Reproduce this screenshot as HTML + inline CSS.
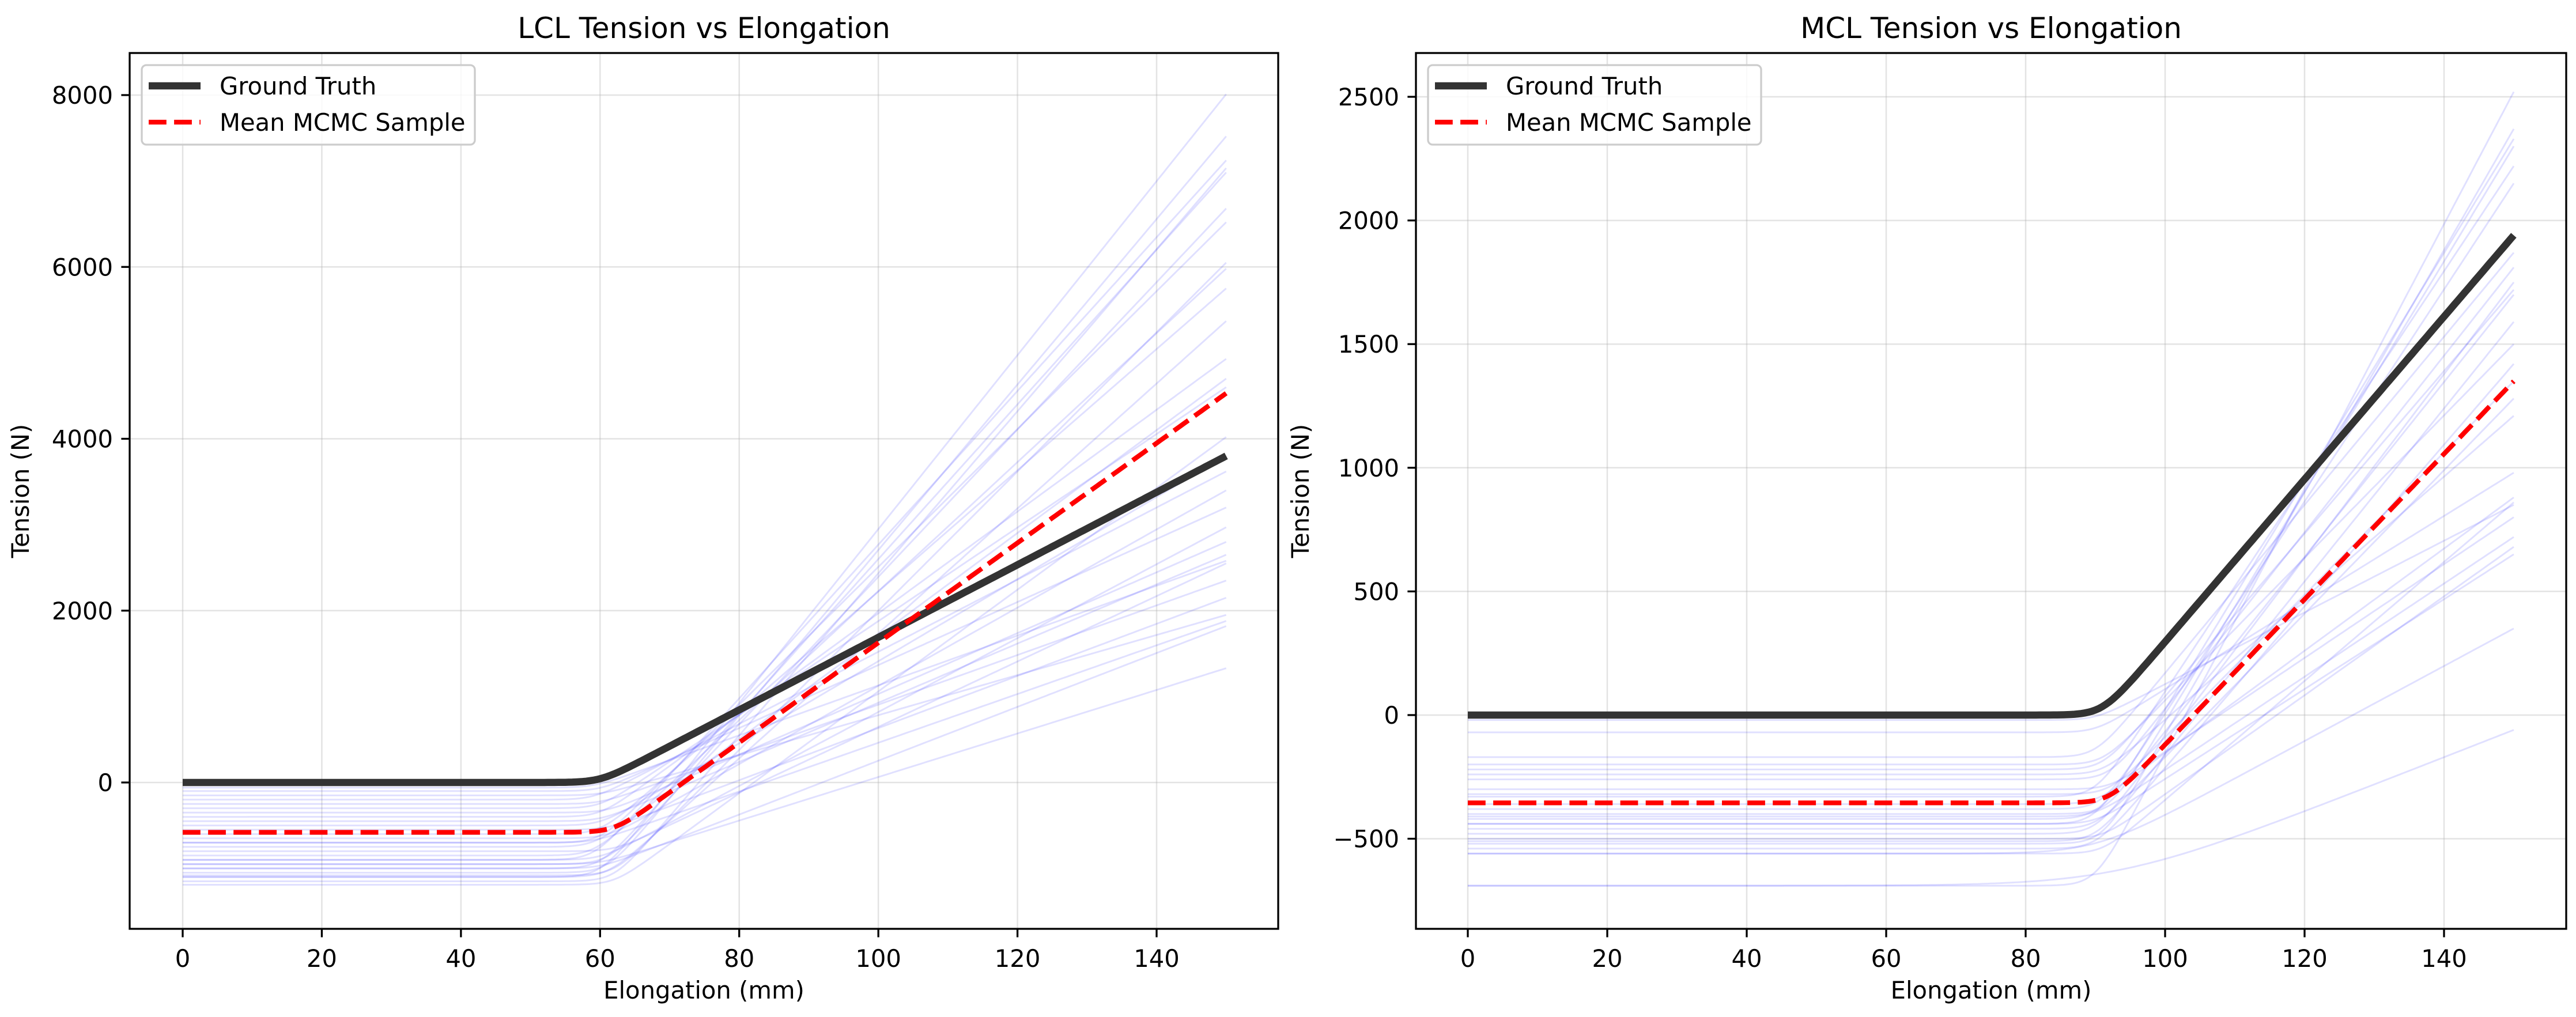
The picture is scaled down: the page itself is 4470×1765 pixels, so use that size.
<!DOCTYPE html>
<html><head><meta charset="utf-8">
<style>
html,body{margin:0;padding:0;background:#fff;}
svg{display:block;font-family:"DejaVu Sans","Liberation Sans",sans-serif;}
</style></head>
<body>
<svg id="fig" width="4470" height="1765" viewBox="0 0 4470 1765" xmlns="http://www.w3.org/2000/svg">
<rect width="4470" height="1765" fill="#fff"/>
</svg>
<script>
// ---- LCL data ----
const lclEnds = [8010,7520,7240,7150,7100,6680,6520,6050,5980,5750,5370,4930,4700,4600,4020,3800,3620,3400,3200,2970,2800,2650,2580,2550,2350,2150,1950,1880,1820,1330];
const lclOffsets = [-1100,-1050,-900,-1150,-1000,-950,-700,-1080,-850,-600,-1100,-400,-750,-300,-1190,-500,-200,-650,-100,-900,-350,-450,-60,-800,-250,-550,-150,-700,-1000,-950];
const lclKnees = [60,61,59,62,60,61,60,62,59,60,61,60,59,60,62,60,59,61,60,60,61,60,59,62,60,61,60,59,60,60];
const lclTruth = {offset:0, knee:60, end:3800};
const lclMean = {offset:-580, knee:62, end:4530};
const lclYTicks = [0,2000,4000,6000,8000];
// ---- MCL data ----
const mclEnds = [2520,2370,2330,2300,2220,2150,1870,1810,1750,1720,1700,1590,1500,1420,1350,1280,1210,980,880,860,850,800,720,680,650,350,-60];
const mclOffsets = [-690,-520,-440,-400,-330,-380,-170,-260,-480,-220,-420,-510,-200,-540,-320,-460,-240,-70,-360,-560,-20,-300,-410,-500,-440,-560,-690];
const mclKnees = [90,91,90,92,90,91,90,92,90,91,90,90,91,90,92,90,91,90,90,91,90,92,90,91,90,90,93];
const mclSoft = [1.5,1.5,1.5,1.5,1.5,1.5,1.5,1.5,1.5,1.5,1.5,1.5,1.5,1.5,1.5,1.5,1.5,1.5,1.5,1.5,1.5,1.5,1.5,1.5,1.5,4,8];
const mclTruth = {offset:0, knee:91, end:1940};
const mclMean = {offset:-355, knee:92, end:1350};
const mclYTicks = [-500,0,500,1000,1500,2000,2500];
const xTicks = [0,20,40,60,80,100,120,140];

const NS = "http://www.w3.org/2000/svg";
const svg = document.getElementById('fig');
function mk(tag, attrs, parent){const e=document.createElementNS(NS,tag);for(const k in attrs)e.setAttribute(k,attrs[k]);(parent||svg).appendChild(e);return e;}
function sp(z){return z>30?z:Math.log1p(Math.exp(z));}
function curve(offset,knee,end,s){
  const norm=s*sp((150-knee)/s);
  const kk=(end-offset)/norm;
  const pts=[];
  for(let i=0;i<=300;i++){const x=i*0.5;pts.push([x,offset+kk*s*sp((x-knee)/s)]);}
  return pts;
}

function panel(cfg){
  const {L,R,T,B,x0px,xScale,y0px,yPerUnit,yTicks,title,name}=cfg;
  const X=v=>x0px+v*xScale, Y=v=>y0px-v*yPerUnit;
  const g=mk('g',{});
  
  
  xTicks.forEach(t=>{const l=mk('line',{x1:X(t),x2:X(t),y1:T,y2:B,stroke:'#b0b0b0','stroke-opacity':0.35,'stroke-width':2.5},g);
    });
  yTicks.forEach(t=>{const l=mk('line',{x1:L,x2:R,y1:Y(t),y2:Y(t),stroke:'#b0b0b0','stroke-opacity':0.35,'stroke-width':2.5},g);
    });
  const clip=mk('clipPath',{id:name+'-clip'},g);mk('rect',{x:L,y:T,width:R-L,height:B-T},clip);
  const pg=mk('g',{'clip-path':`url(#${name}-clip)`},g);
  const path=pts=>pts.map((p,i)=>(i?'L':'M')+X(p[0]).toFixed(1)+' '+Y(p[1]).toFixed(1)).join(' ');
  cfg.ends.forEach((e,i)=>{
    const p=mk('path',{d:path(curve(cfg.offsets[i],cfg.knees[i],e,cfg.soft?cfg.soft[i]:1.5)),fill:'none',stroke:'#0000ff','stroke-opacity':0.12,'stroke-width':3},pg);
    
    
  });
  const gt=mk('path',{d:path(curve(cfg.truth.offset,cfg.truth.knee,cfg.truth.end,1.5)),fill:'none',stroke:'#333','stroke-width':12.5},pg);
  
  
  const mn=mk('path',{d:path(curve(cfg.mean.offset,cfg.mean.knee,cfg.mean.end,1.5)),fill:'none',stroke:'#ff0000','stroke-width':8.3,'stroke-dasharray':'30.8 13.3'},pg);
  
  
  const fr=mk('rect',{x:L,y:T,width:R-L,height:B-T,fill:'none',stroke:'#000','stroke-width':3.3},g);
  
  xTicks.forEach(t=>{mk('line',{x1:X(t),x2:X(t),y1:B,y2:B+14.6,stroke:'#000','stroke-width':3.3},g);
    const tx=mk('text',{x:X(t),y:1678,'text-anchor':'middle','font-size':41.7,fill:'#000'},g);tx.textContent=t;
    });
  yTicks.forEach(t=>{mk('line',{x1:L-14.6,x2:L,y1:Y(t),y2:Y(t),stroke:'#000','stroke-width':3.3},g);
    const tx=mk('text',{x:L-29,y:Y(t)+15,'text-anchor':'end','font-size':41.7,fill:'#000'},g);tx.textContent=(t<0?'\u2212'+(-t):t);
    });
  const ti=mk('text',{x:(L+R)/2,y:66,'text-anchor':'middle','font-size':50,fill:'#000'},g);ti.textContent=title;
  
  const xl=mk('text',{x:(L+R)/2,y:1733,'text-anchor':'middle','font-size':41.7,fill:'#000'},g);xl.textContent='Elongation (mm)';
  
  const yc=(T+B)/2;
  const yl=mk('text',{x:cfg.ylx,y:yc,'text-anchor':'middle','font-size':41.7,fill:'#000',transform:`rotate(-90 ${cfg.ylx} ${yc})`},g);yl.textContent='Tension (N)';
  
  const lg=mk('g',{},g);
  
  mk('rect',{x:L+21,y:113,width:578,height:138,rx:8,fill:'#fff','fill-opacity':0.8,stroke:'#ccc','stroke-width':3.3},lg);
  mk('line',{x1:L+33,x2:L+123,y1:149,y2:149,stroke:'#333','stroke-width':12.5},lg);
  mk('line',{x1:L+33,x2:L+123,y1:212,y2:212,stroke:'#ff0000','stroke-width':8.3,'stroke-dasharray':'30.8 13.3'},lg);
  const t1=mk('text',{x:L+156,y:164,'font-size':41.7,fill:'#000'},lg);t1.textContent='Ground Truth';
  
  const t2=mk('text',{x:L+156,y:227,'font-size':41.7,fill:'#000'},lg);t2.textContent='Mean MCMC Sample';
  
}

panel({name:'lcl',title:'LCL Tension vs Elongation',L:225,R:2218,T:92,B:1612,x0px:317,xScale:(2007-317)/140,y0px:1358,yPerUnit:(1358-165)/8000,yTicks:lclYTicks,
  ends:lclEnds,offsets:lclOffsets,knees:lclKnees,truth:lclTruth,mean:lclMean,ylx:50});
panel({name:'mcl',title:'MCL Tension vs Elongation',L:2457,R:4453,T:92,B:1612,x0px:2547,xScale:(4241-2547)/140,y0px:1241,yPerUnit:(1241-168)/2500,yTicks:mclYTicks,
  ends:mclEnds,offsets:mclOffsets,knees:mclKnees,soft:mclSoft,truth:mclTruth,mean:mclMean,ylx:2271});
</script>
</body></html>
